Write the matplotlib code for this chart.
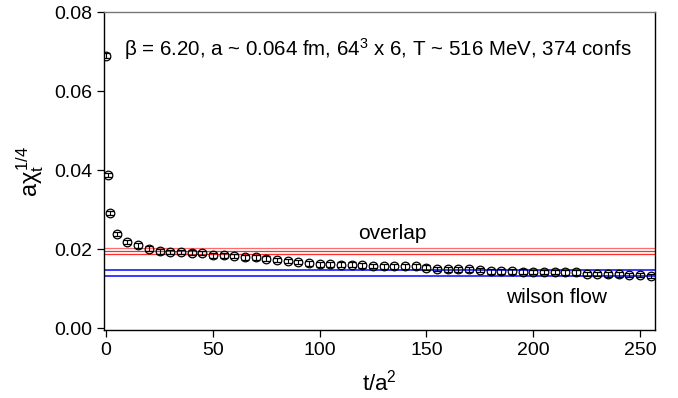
import matplotlib
matplotlib.use("Agg")
import matplotlib.pyplot as plt
import numpy as np

plt.rcParams['font.family'] = ['Liberation Sans', 'DejaVu Sans']
plt.rcParams['mathtext.fontset'] = 'custom'
plt.rcParams['mathtext.rm'] = 'Liberation Sans'
plt.rcParams['mathtext.it'] = 'Liberation Sans'

# data
t_vals = [0, 1, 2, 5] + list(range(10, 256, 5))
chi_vals = [0.0690, 0.0388, 0.0292, 0.0239,
            0.02186, 0.02102, 0.02017, 0.01949, 0.01932, 0.01932, 0.01915, 0.01907,
            0.01848, 0.01848, 0.01831, 0.01797, 0.01797, 0.01763, 0.01729, 0.01704,
            0.01679, 0.01645, 0.01619, 0.01619, 0.01611, 0.01611, 0.01594, 0.01577,
            0.01569, 0.01569, 0.01569, 0.01569, 0.01535, 0.01501, 0.01492, 0.01492,
            0.01492, 0.01475, 0.01442, 0.01442, 0.01442, 0.01433, 0.01425, 0.01425,
            0.01425, 0.01416, 0.01416, 0.01374, 0.01374, 0.01365, 0.01365, 0.01348,
            0.01348, 0.01323]
chi_err = [0.0006] * len(t_vals)

overlap_lines = [0.0203, 0.0195, 0.0187]
wilson_lines = [0.0148, 0.0133]

x_ticks = [0, 50, 100, 150, 200, 250]
y_ticks = [0.00, 0.02, 0.04, 0.06, 0.08]

fig = plt.figure(figsize=(6.78, 3.98), dpi=100)
ax = fig.add_axes([0.1534, 0.1709, 0.966 - 0.1534, 0.9698 - 0.1709])

for i, v in enumerate(overlap_lines):
    ax.axhline(v, color='#ff2a2a' if i != 0 else '#ff6a6a', lw=0.9, zorder=1)
for v in wilson_lines:
    ax.axhline(v, color='#2a2aff', lw=1.3, zorder=1)

ax.errorbar(t_vals, chi_vals, yerr=chi_err, fmt='o', mfc='none', mec='black',
            ecolor='black', ms=6.2, mew=0.9, elinewidth=0.8, capsize=3.0,
            capthick=0.8, zorder=3)

ax.set_xlim(-1, 257)
ax.set_ylim(-0.0004, 0.08)
ax.set_xticks(x_ticks)
ax.set_yticks(y_ticks)
ax.set_xticklabels([str(v) for v in x_ticks])
ax.set_yticklabels(['%.2f' % v for v in y_ticks])
ax.tick_params(direction='out', length=5, width=0.9, labelsize=14, color='black')
for s in ['left', 'right', 'bottom']:
    ax.spines[s].set_linewidth(1.0)
    ax.spines[s].set_color('black')
ax.spines['top'].set_color('#777777')
ax.spines['top'].set_linewidth(1.0)

ax.set_xlabel(r't/a$^2$', fontsize=16, labelpad=8)
ax.set_ylabel(r'a$\chi_t^{1/4}$', fontsize=17, labelpad=6)

ax.text(0.036, 0.885, r'β = 6.20, a ~ 0.064 fm, 64$^3$ x 6, T ~ 516 MeV, 374 confs',
        transform=ax.transAxes, fontsize=14.8, ha='left', va='center')
ax.text(134, 0.0240, 'overlap', fontsize=15, ha='center', va='center')
ax.text(211, 0.0077, 'wilson flow', fontsize=15, ha='center', va='center')

fig.savefig('out.png', dpi=100)
